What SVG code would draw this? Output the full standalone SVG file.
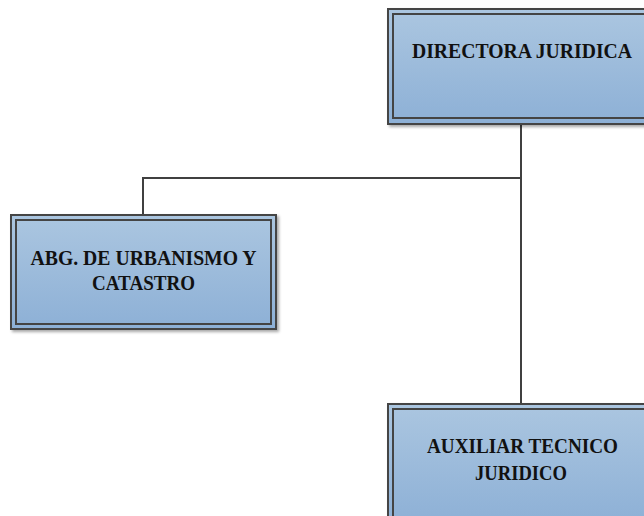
<svg xmlns="http://www.w3.org/2000/svg" width="644" height="516" viewBox="0 0 644 516">
<defs>
<linearGradient id="g" x1="0" y1="0" x2="0" y2="1">
<stop offset="0" stop-color="#abc6e0"/>
<stop offset="1" stop-color="#8db0d6"/>
</linearGradient>
<filter id="sh" x="-5%" y="-5%" width="115%" height="115%">
<feGaussianBlur in="SourceAlpha" stdDeviation="1.5"/>
<feOffset dx="2" dy="2"/>
<feComponentTransfer><feFuncA type="linear" slope="0.35"/></feComponentTransfer>
<feMerge><feMergeNode/><feMergeNode in="SourceGraphic"/></feMerge>
</filter>
</defs>
<style>
.outer{fill:url(#g);stroke:#444;stroke-width:2}
.inner{fill:none;stroke:#444;stroke-width:2}
.t{font-family:"Liberation Serif","Times New Roman",serif;font-weight:bold;font-size:20.5px;fill:#111;text-anchor:middle}
.c{stroke:#404040;stroke-width:2;fill:none}
</style>
<rect width="644" height="516" fill="#fff"/>
<g id="connectors">
<path class="c" d="M521 124 V404"/>
<path class="c" d="M521 178 H143 V215"/>
</g>
<g id="n1">
<rect class="outer" x="388" y="9" width="270" height="115" filter="url(#sh)"/>
<rect class="inner" x="393" y="14" width="260" height="104"/>
<text class="t" x="522" y="58" textLength="220" lengthAdjust="spacingAndGlyphs">DIRECTORA JURIDICA</text>
</g>
<g id="n2">
<rect class="outer" x="11" y="215" width="265" height="114" filter="url(#sh)"/>
<rect class="inner" x="16" y="220" width="255" height="104"/>
<text class="t" x="143.5" y="265" textLength="226" lengthAdjust="spacingAndGlyphs">ABG. DE URBANISMO Y</text>
<text class="t" x="143.5" y="290" textLength="103" lengthAdjust="spacingAndGlyphs">CATASTRO</text>
</g>
<g id="n3">
<rect class="outer" x="388" y="404" width="270" height="120" filter="url(#sh)"/>
<rect class="inner" x="393" y="409" width="260" height="110"/>
<text class="t" x="522.5" y="453" textLength="191" lengthAdjust="spacingAndGlyphs">AUXILIAR TECNICO</text>
<text class="t" x="521" y="480" textLength="92" lengthAdjust="spacingAndGlyphs">JURIDICO</text>
</g>
</svg>
